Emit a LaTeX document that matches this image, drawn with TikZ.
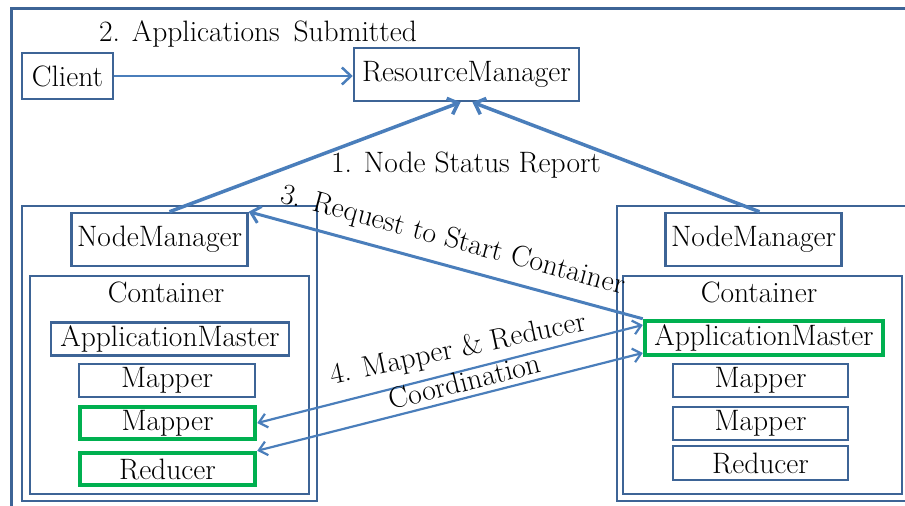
\documentclass[tikz,border=0pt]{standalone}
\usetikzlibrary{arrows.meta}

\definecolor{boxblue}{RGB}{61,100,150}
\definecolor{arrowblue}{RGB}{74,126,187}
\definecolor{boxgreen}{RGB}{0,176,80}

\begin{document}
\begin{tikzpicture}[
    x=1pt, y=-1pt,
    font=\rmfamily\fontsize{29.5}{31}\selectfont,
    block/.style={
      rectangle,
      draw=boxblue,
      line width=2.5pt,
      inner sep=0pt,
      minimum width=176pt,
      minimum height=33pt
    },
    frame/.style={rectangle, draw=boxblue, line width=2.5pt, inner sep=0pt},
    greenblock/.style={block, draw=boxgreen, line width=4.5pt, minimum width=175pt, minimum height=32pt},
    line/.style={draw=arrowblue, line width=3.5pt, -{Straight Barb[length=9pt,width=17pt]}},
    thinline/.style={draw=arrowblue, line width=2.2pt,
      {Straight Barb[length=8pt,width=14pt]}-{Straight Barb[length=8pt,width=14pt]}},
]
    \path[use as bounding box, clip] (0,0) rectangle (905,506);
    \draw[boxblue, line width=3pt] (11,8) rectangle (930,530);

    % top row
    \node [block, minimum width=91pt, minimum height=46pt] (client) at (67.5,76) {Client};
    \node [block, minimum width=225pt, minimum height=53pt] (rm) at (466.5,74.5) {ResourceManager};
    \node [anchor=base] (submitted) at (258,41) {2. Applications\, Submitted};

    % left node
    \node [frame, minimum width=295pt, minimum height=295pt] (lnode) at (169.5,353.5) {};
    \node [block, minimum height=53pt] (lnm) at (159.5,239.5) {NodeManager};
    \node [frame, minimum width=279pt, minimum height=218pt] (lcont) at (169.5,385) {};
    \node [anchor=base] (lcontlabel) at (166,302) {Container};
    \node [block, minimum width=238pt] (lam) at (170,339) {ApplicationMaster};
    \node [block] (lmap1) at (167,380.5) {Mapper};
    \node [greenblock] (lmap2) at (167.5,423) {Mapper};
    \node [greenblock] (lred) at (167.5,469) {Reducer};

    % right node
    \node [frame, minimum width=290pt, minimum height=295pt] (rnode) at (762,353.5) {};
    \node [block, minimum height=53pt] (rnm) at (753.5,239.5) {NodeManager};
    \node [frame, minimum width=279pt, minimum height=218pt] (rcont) at (762.5,385) {};
    \node [anchor=base] (rcontlabel) at (759,302) {Container};
    \node [greenblock, minimum width=238pt, minimum height=34pt] (ram) at (764,338) {ApplicationMaster};
    \node [block, minimum width=175pt] (rmap1) at (760.5,380.5) {Mapper};
    \node [block, minimum width=175pt] (rmap2) at (760.5,423.5) {Mapper};
    \node [block, minimum width=175pt, minimum height=34pt] (rred) at (760.5,463) {Reducer};

    % connectors
    \path [line, line width=2.5pt] (client.east) -- (client.east -| rm.west);
    \path [line] ([xshift=10pt]lnm.north) -- ([xshift=-6pt]rm.south);
    \path [line] ([xshift=6pt]rnm.north) -- ([xshift=6pt]rm.south);
    \path [line, line width=3pt] (ram.north west) -- (lnm.north east);
    \path [thinline] (lmap2.east) -- ([yshift=13pt]ram.west);
    \path [thinline] (lred.north east) -- ([yshift=-15pt]ram.west);

    % labels
    \node [anchor=base] (status) at (466,172) {1. Node Status Report};
    \node [anchor=base, rotate=-15] (request) at (451,248) {3. Request to Start Container};
    \node [anchor=base, rotate=12] (coord) at (460,357) {4. Mapper \& Reducer};
    \node [anchor=base, rotate=14] (coordb) at (467,391) {Coordination};
\end{tikzpicture}
\end{document}
